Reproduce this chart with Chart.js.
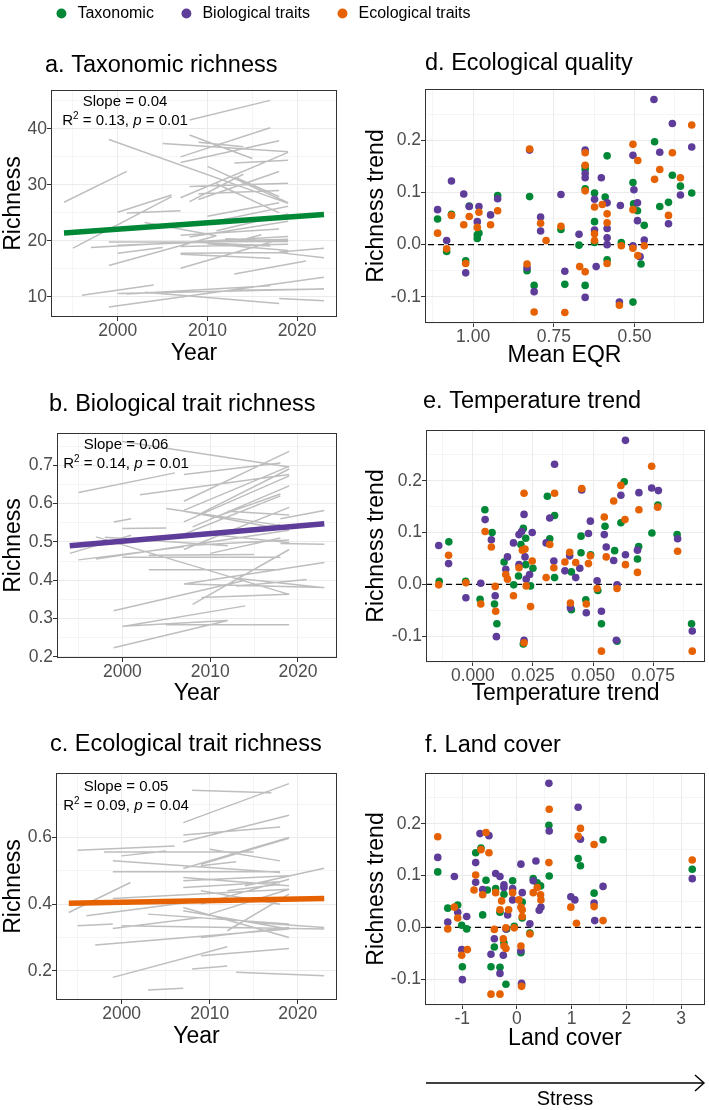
<!DOCTYPE html>
<html>
<head>
<meta charset="utf-8">
<script src="https://cdn.jsdelivr.net/npm/chart.js@4.4.1/dist/chart.umd.min.js"></script>
<style>
  body { margin: 0; width: 709px; height: 1110px; background: #fff; position: relative; overflow: hidden; }
  canvas { position: absolute; }
</style>
</head>
<body>
<script>
const FONT = '"Liberation Sans", Arial, Helvetica, sans-serif';

const seriesNames = ['Taxonomic', 'Biological traits', 'Ecological traits'];
const taxColour = '#008837';
const bioColour = '#5e3c99';
const ecoColour = '#e66101';
const segColour = '#bebebe';

// a-c: one segment per site, [first year, richness, last year, richness]
const taxSegments = [
    [1994, 26.9, 2001, 32.4], [1999, 38.1, 2019, 26.7], [2008, 41.6, 2017, 45.1], [2007, 35.0, 2017, 40.2],
    [2007, 34.0, 2018, 37.9], [2005, 37.4, 2019, 35.9], [2008, 38.9, 2015, 34.7], [2009, 37.6, 2014, 36.8],
    [2013, 33.9, 2019, 34.4], [2010, 33.3, 2019, 26.8], [2008, 29.7, 2019, 30.3], [2009, 27.4, 2018, 32.4],
    [2008, 27.0, 2014, 31.9], [2009, 28.4, 2018, 29.0], [2007, 27.7, 2019, 35.8], [2013, 31.4, 2018, 27.9],
    [2011, 30.2, 2018, 25.0], [2000, 25.1, 2006, 28.2], [2001, 25.0, 2007, 25.4], [1995, 18.7, 2006, 27.9],
    [2003, 23.3, 2011, 20.9], [1997, 18.8, 2019, 20.8], [1999, 19.8, 2019, 19.9], [2000, 19.2, 2019, 20.3],
    [2000, 17.8, 2005, 18.8], [2007, 19.0, 2019, 19.4], [2007, 17.8, 2019, 17.9], [2007, 17.6, 2017, 16.9],
    [2008, 20.7, 2019, 23.5], [2009, 22.9, 2019, 26.2], [2011, 21.8, 2019, 24.8], [2010, 19.5, 2019, 18.3],
    [2013, 19.8, 2016, 21.1], [2007, 15.1, 2018, 20.2], [1999, 15.6, 2011, 20.9], [2010, 24.4, 2018, 26.8],
    [2007, 21.0, 2018, 22.1], [2013, 14.1, 2021, 16.4], [2018, 17.9, 2023, 17.0], [2018, 18.0, 2023, 18.7],
    [1996, 10.3, 2004, 12.1], [2000, 10.6, 2023, 11.4], [2003, 10.8, 2018, 8.8], [1999, 8.2, 2023, 13.5],
    [2013, 11.2, 2023, 11.4], [2018, 9.7, 2023, 9.3], [2001, 10.5, 2017, 12.0], [2008, 19.8, 2017, 19.1],
    [2012, 20.4, 2019, 20.0]
];
const bioSegments = [
    [1995, 0.629, 2006, 0.680], [2000, 0.762, 2019, 0.695], [2002, 0.623, 2019, 0.676], [2007, 0.676, 2018, 0.706],
    [2007, 0.606, 2019, 0.736], [2007, 0.582, 2019, 0.697], [2007, 0.552, 2019, 0.672], [2008, 0.539, 2019, 0.646],
    [2009, 0.575, 2019, 0.690], [2010, 0.560, 2018, 0.625], [2007, 0.520, 2018, 0.620], [2005, 0.587, 2018, 0.543],
    [2007, 0.580, 2019, 0.530], [1999, 0.552, 2001, 0.560], [2000, 0.535, 2005, 0.536], [1997, 0.513, 2019, 0.363],
    [1999, 0.320, 2014, 0.400], [2000, 0.280, 2012, 0.295], [1999, 0.224, 2012, 0.295], [2005, 0.284, 2019, 0.284],
    [2000, 0.279, 2014, 0.333], [2008, 0.337, 2019, 0.480], [2009, 0.355, 2019, 0.363], [2007, 0.390, 2023, 0.381],
    [2013, 0.384, 2021, 0.402], [2003, 0.427, 2018, 0.427], [2013, 0.405, 2023, 0.380], [2007, 0.390, 2023, 0.446],
    [2018, 0.560, 2023, 0.582], [2018, 0.496, 2023, 0.494], [1994, 0.470, 2001, 0.517], [1995, 0.453, 2007, 0.487],
    [1997, 0.455, 2019, 0.530], [2000, 0.460, 2018, 0.460], [2003, 0.465, 2015, 0.467], [2007, 0.480, 2019, 0.590],
    [2007, 0.490, 2019, 0.505], [2004, 0.506, 2018, 0.545], [2010, 0.470, 2018, 0.510], [2009, 0.522, 2019, 0.498],
    [2012, 0.580, 2019, 0.570], [1998, 0.512, 2012, 0.490]
];
const ecoSegments = [
    [1995, 0.562, 2006, 0.575], [1998, 0.557, 2015, 0.557], [2000, 0.545, 2005, 0.560], [1999, 0.530, 2018, 0.495],
    [1999, 0.497, 2018, 0.497], [2008, 0.742, 2017, 0.735], [2007, 0.645, 2019, 0.762], [2007, 0.608, 2018, 0.632],
    [2007, 0.587, 2019, 0.667], [2007, 0.507, 2019, 0.600], [2010, 0.565, 2018, 0.530], [2009, 0.520, 2019, 0.598],
    [2007, 0.480, 2019, 0.455], [2009, 0.515, 2013, 0.527], [2007, 0.450, 2018, 0.467], [2007, 0.470, 2019, 0.485],
    [1994, 0.375, 2001, 0.465], [1995, 0.335, 1999, 0.340], [1996, 0.365, 2009, 0.410], [1999, 0.417, 2019, 0.445],
    [1999, 0.327, 2009, 0.360], [1997, 0.277, 2019, 0.325], [2000, 0.335, 2023, 0.325], [2003, 0.370, 2019, 0.340],
    [2007, 0.390, 2019, 0.300], [2007, 0.380, 2019, 0.325], [2015, 0.345, 2023, 0.330], [2009, 0.300, 2019, 0.330],
    [2009, 0.245, 2019, 0.267], [1999, 0.180, 2012, 0.272], [2008, 0.205, 2012, 0.214], [2013, 0.195, 2023, 0.185],
    [2003, 0.142, 2007, 0.147], [2014, 0.455, 2023, 0.508], [2010, 0.370, 2019, 0.445], [2009, 0.400, 2019, 0.475],
    [2003, 0.405, 2015, 0.415], [2012, 0.440, 2018, 0.460], [2009, 0.440, 2018, 0.400], [2012, 0.320, 2019, 0.430]
];

// fitted trend, [year, richness] at both ends
const taxTrend = [[1994, 21.4], [2023, 24.7]];
const bioTrend = [[1994, 0.490], [2023, 0.547]];
const ecoTrend = [[1994, 0.403], [2023, 0.417]];

// slope, R2, p
const taxStats = ['0.04', '0.13', '0.01'];
const bioStats = ['0.06', '0.14', '0.01'];
const ecoStats = ['0.05', '0.09', '0.04'];

// d: richness trend against mean EQR, [EQR, trend]
const eqrTax = [
    [1.110, 0.049], [1.082, -0.013], [1.067, 0.058], [1.023, -0.031], [1.012, 0.074], [0.987, 0.019], [0.987, 0.012],
    [0.982, 0.022], [0.924, 0.094], [0.825, 0.092], [0.833, -0.050], [0.811, -0.078], [0.728, 0.029], [0.716, -0.076],
    [0.672, -0.001], [0.653, 0.150], [0.653, 0.144], [0.653, 0.107], [0.653, -0.078], [0.624, 0.099], [0.624, 0.044],
    [0.624, 0.004], [0.591, 0.091], [0.585, 0.170], [0.585, -0.029], [0.541, 0.004], [0.505, 0.119], [0.503, 0.078],
    [0.505, -0.110], [0.491, 0.065], [0.480, -0.037], [0.470, 0.037], [0.438, 0.197], [0.422, 0.073], [0.395, 0.081],
    [0.383, 0.133], [0.358, 0.112], [0.323, 0.099]
];
const eqrBio = [
    [1.110, 0.067], [1.082, 0.008], [1.067, 0.122], [1.029, 0.097], [1.023, -0.054], [1.012, 0.073], [0.982, 0.073],
    [0.987, 0.044], [0.946, 0.057], [0.924, 0.088], [0.825, 0.181], [0.833, -0.044], [0.811, -0.090], [0.791, 0.053],
    [0.791, 0.026], [0.728, 0.096], [0.716, -0.051], [0.672, 0.020], [0.653, 0.181], [0.653, 0.136], [0.653, 0.128],
    [0.653, -0.101], [0.619, -0.042], [0.624, 0.087], [0.624, 0.028], [0.603, 0.128], [0.585, 0.080], [0.585, 0.031],
    [0.585, 0.013], [0.585, 0.000], [0.544, 0.075], [0.547, -0.110], [0.505, 0.171], [0.502, 0.105], [0.505, -0.002],
    [0.491, 0.080], [0.491, 0.046], [0.483, -0.023], [0.470, 0.009], [0.440, 0.278], [0.422, 0.177], [0.395, 0.040],
    [0.383, 0.232], [0.358, 0.095], [0.323, 0.187]
];
const eqrEco = [
    [1.110, 0.022], [1.082, -0.008], [1.067, 0.056], [1.029, 0.038], [1.023, -0.036], [1.012, 0.054], [0.982, 0.062],
    [0.987, 0.033], [0.946, 0.038], [0.924, 0.065], [0.825, 0.183], [0.833, -0.037], [0.811, -0.129], [0.791, 0.041],
    [0.774, 0.008], [0.728, 0.035], [0.716, -0.130], [0.670, -0.042], [0.653, 0.176], [0.653, 0.152], [0.653, 0.103],
    [0.653, -0.052], [0.624, 0.072], [0.624, 0.021], [0.624, 0.008], [0.600, 0.077], [0.585, 0.059], [0.585, 0.042],
    [0.585, -0.036], [0.541, -0.002], [0.547, -0.116], [0.505, 0.192], [0.505, 0.067], [0.505, -0.007], [0.490, 0.161],
    [0.490, -0.021], [0.470, -0.002], [0.438, 0.125], [0.422, 0.144], [0.395, 0.056], [0.383, 0.176], [0.358, 0.128],
    [0.323, 0.229]
];

// e: richness trend against temperature trend
const tempTax = [
    [-0.010, 0.082], [-0.014, 0.006], [-0.003, 0.006], [0.005, 0.144], [0.003, -0.029], [0.008, 0.100], [0.009, -0.038],
    [0.010, -0.076], [0.013, 0.043], [0.017, -0.001], [0.019, 0.016], [0.021, 0.108], [0.020, 0.077], [0.022, 0.089],
    [0.021, -0.115], [0.022, 0.038], [0.024, -0.003], [0.025, 0.031], [0.031, 0.170], [0.032, 0.088], [0.034, 0.133],
    [0.034, 0.013], [0.041, 0.024], [0.041, -0.049], [0.045, 0.061], [0.045, 0.093], [0.047, -0.030], [0.049, 0.057],
    [0.052, -0.012], [0.0535, -0.076], [0.055, 0.112], [0.059, 0.065], [0.060, -0.110], [0.0616, 0.119], [0.063, 0.198],
    [0.069, 0.073], [0.0685, 0.049], [0.0745, 0.099], [0.077, 0.153], [0.085, 0.096], [0.091, -0.076]
];
const tempBio = [
    [-0.0142, 0.075], [-0.0101, 0.040], [-0.0029, -0.026], [0.0051, 0.125], [0.0033, 0.002], [0.0077, 0.086],
    [0.0093, -0.022], [0.0098, -0.101], [0.0144, 0.053], [0.0137, 0.029], [0.0169, 0.080], [0.0192, 0.096],
    [0.0203, 0.102], [0.0192, 0.038], [0.0213, 0.135], [0.0217, 0.053], [0.0213, -0.108], [0.0222, 0.010],
    [0.0236, 0.019], [0.0247, 0.100], [0.0305, 0.080], [0.032, 0.128], [0.034, 0.232], [0.0337, 0.045],
    [0.0383, 0.026], [0.0406, -0.045], [0.0403, 0.055], [0.0428, 0.013], [0.0445, 0.031], [0.0453, 0.182],
    [0.0481, 0.098], [0.0472, -0.055], [0.0489, 0.122], [0.0517, 0.007], [0.0535, -0.052], [0.0547, 0.096],
    [0.0555, 0.072], [0.0586, 0.046], [0.0597, -0.108], [0.060, -0.001], [0.0616, 0.172], [0.0635, 0.278],
    [0.0635, 0.057], [0.0691, 0.177], [0.0685, 0.066], [0.0744, 0.186], [0.0772, 0.181], [0.0852, 0.088],
    [0.0913, -0.090]
];
const tempEco = [
    [-0.0142, -0.001], [-0.0101, 0.056], [-0.0029, 0.003], [0.0051, 0.102], [0.0033, -0.038], [0.0077, 0.072],
    [0.0093, -0.004], [0.0095, -0.052], [0.0137, 0.019], [0.0144, 0.010], [0.0169, -0.022], [0.0192, 0.032],
    [0.0206, 0.066], [0.0217, 0.068], [0.0213, 0.176], [0.0213, -0.113], [0.0222, -0.003], [0.0247, 0.045],
    [0.024, -0.043], [0.0305, 0.013], [0.032, 0.077], [0.034, 0.176], [0.0337, 0.032], [0.0383, 0.043],
    [0.0406, -0.036], [0.0403, 0.062], [0.0428, 0.042], [0.0453, 0.185], [0.0481, 0.040], [0.0472, -0.038],
    [0.0489, 0.055], [0.0517, -0.008], [0.0535, -0.129], [0.0547, 0.130], [0.0555, 0.053], [0.0586, 0.161],
    [0.060, -0.008], [0.0616, 0.191], [0.0633, 0.125], [0.0635, 0.038], [0.0691, 0.144], [0.0685, 0.023],
    [0.0744, 0.228], [0.0769, 0.149], [0.0852, 0.064], [0.0913, -0.129]
];

// f: richness trend against land cover
const landTax = [
    [-1.447, 0.107], [-1.264, 0.037], [-1.082, 0.043], [-1.009, 0.004], [-0.997, -0.076], [-0.918, -0.003],
    [-0.754, 0.144], [-0.657, 0.153], [-0.626, 0.024], [-0.565, 0.091], [-0.541, 0.072], [-0.474, -0.076],
    [-0.413, -0.038], [-0.389, 0.075], [-0.310, 0.029], [-0.310, -0.077], [-0.237, -0.030], [-0.237, 0.064],
    [-0.201, -0.110], [-0.188, -0.003], [-0.079, 0.090], [-0.049, 0.002], [0.073, -0.049], [0.097, 0.049],
    [0.097, 0.018], [0.085, -0.111], [0.237, -0.011], [0.298, 0.094], [0.371, 0.086], [0.432, 0.080],
    [0.584, 0.197], [0.590, 0.099], [1.119, 0.133], [1.161, 0.119], [1.410, 0.066], [1.574, 0.169], [3.204, 0.112]
];
const landBio = [
    [-1.447, 0.135], [-1.264, 0.010], [-1.143, 0.098], [-1.082, 0.029], [-1.009, -0.043], [-0.997, -0.101],
    [-0.918, 0.021], [-0.754, 0.087], [-0.754, 0.125], [-0.675, 0.181], [-0.626, 0.073], [-0.511, 0.177],
    [-0.474, -0.052], [-0.413, -0.022], [-0.389, 0.104], [-0.310, 0.098], [-0.310, -0.089], [-0.249, -0.054],
    [-0.237, 0.077], [-0.237, 0.082], [-0.201, -0.003], [-0.170, 0.024], [-0.079, 0.075], [-0.079, 0.053],
    [0.073, 0.122], [0.073, -0.045], [0.097, 0.067], [0.085, -0.108], [0.237, 0.007], [0.347, 0.128],
    [0.298, 0.090], [0.438, 0.039], [0.407, 0.033], [0.584, 0.278], [0.590, 0.186], [0.985, 0.059],
    [1.058, 0.053], [1.119, 0.232], [1.161, 0.170], [1.410, 0.047], [1.422, 0.013], [1.574, 0.079], [3.204, 0.094]
];
const landEco = [
    [-1.447, 0.175], [-1.264, -0.003], [-1.143, 0.039], [-1.082, 0.018], [-1.009, -0.054], [-0.906, -0.043],
    [-0.754, 0.101], [-0.784, 0.072], [-0.657, 0.150], [-0.626, 0.063], [-0.565, 0.183], [-0.511, 0.144],
    [-0.474, -0.129], [-0.413, -0.004], [-0.389, 0.067], [-0.310, 0.034], [-0.310, -0.129], [-0.280, 0.051],
    [-0.249, -0.022], [-0.237, -0.036], [-0.201, -0.001], [-0.201, -0.041], [-0.152, 0.034], [-0.079, 0.067],
    [-0.049, -0.001], [0.036, 0.053], [0.073, 0.039], [0.073, -0.036], [0.097, 0.034], [0.097, 0.021],
    [0.085, -0.114], [0.237, -0.013], [0.298, 0.067], [0.371, 0.077], [0.432, 0.063], [0.438, 0.053],
    [0.590, 0.228], [0.584, 0.125], [0.985, 0.039], [1.088, 0.008], [1.161, 0.191], [1.119, 0.176],
    [1.410, 0.160], [1.410, 0.040], [1.574, 0.013], [3.204, 0.130]
];

// tick values and their labels
const yearTicks = [2000, 2010, 2020];
const yearLabels = ['2000', '2010', '2020'];
const taxRichTicks = [10, 20, 30, 40];
const taxRichLabels = ['10', '20', '30', '40'];
const bioRichTicks = [0.2, 0.3, 0.4, 0.5, 0.6, 0.7];
const bioRichLabels = ['0.2', '0.3', '0.4', '0.5', '0.6', '0.7'];
const ecoRichTicks = [0.2, 0.4, 0.6];
const ecoRichLabels = ['0.2', '0.4', '0.6'];
const trendTicks = [-0.1, 0, 0.1, 0.2];
const trendLabels = ['-0.1', '0.0', '0.1', '0.2'];
const eqrTicks = [0.5, 0.75, 1.0];
const eqrLabels = ['0.50', '0.75', '1.00'];
const tempTicks = [0, 0.025, 0.05, 0.075];
const tempLabels = ['0.000', '0.025', '0.050', '0.075'];
const landTicks = [-1, 0, 1, 2, 3];
const landLabels = ['-1', '0', '1', '2', '3'];

Chart.defaults.font.family = FONT;
Chart.defaults.color = '#000';

function addCanvas(left, top, width, height) {
    const c = document.createElement('canvas');
    c.width = width;
    c.height = height;
    c.style.left = left + 'px';
    c.style.top = top + 'px';
    c.style.width = width + 'px';
    c.style.height = height + 'px';
    document.body.appendChild(c);
    return c;
}

function xy(pairs) {
    return pairs.map(p => ({x: p[0], y: p[1]}));
}

// one dataset for all segments, null breaks the line between sites
function segmentPoints(segs) {
    const pts = [];
    segs.forEach(s => {
        pts.push({x: s[0], y: s[1]}, {x: s[2], y: s[3]}, {x: s[2], y: null});
    });
    return pts;
}

// major ticks with labels, minor ticks halfway (grid only)
function tickList(major, labels, min, max) {
    const step = major[1] - major[0];
    const list = [];
    for (let k = -2; k <= 2 * major.length; k++) {
        const v = +(major[0] + k * step / 2).toFixed(6);
        if (v < min - 1e-9 || v > max + 1e-9) continue;
        const isMajor = k % 2 === 0;
        list.push({value: v, minor: !isMajor, text: isMajor ? labels[k / 2] : ''});
    }
    return list;
}

function axis(cfg) {
    return {
        type: 'linear',
        bounds: 'data',
        min: cfg.min,
        max: cfg.max,
        reverse: !!cfg.reverse,
        afterBuildTicks: s => { s.ticks = tickList(cfg.ticks, cfg.labels, cfg.min, cfg.max); },
        afterFit: s => {
            if (s.isHorizontal()) s.height = cfg.size;
            else s.width = cfg.size;
        },
        ticks: {
            autoSkip: false,
            maxRotation: 0,
            minRotation: 0,
            padding: 0,
            color: '#4d4d4d',
            font: {size: 17.5},
            callback: (v, i, t) => t[i].text
        },
        grid: {
            color: '#ebebeb',
            lineWidth: c => (c.tick && c.tick.minor) ? 0.5 : 1,
            tickLength: 4,
            tickWidth: 1,
            tickColor: c => (c.tick && c.tick.minor) ? 'rgba(0,0,0,0)' : '#333333'
        },
        border: {display: false},
        title: {display: true, text: cfg.title, color: '#000', font: {size: 23}, padding: cfg.titlePad}
    };
}

function drawStats(ctx, cx, y1, y2, stats) {
    const normal = '15px ' + FONT;
    ctx.textBaseline = 'middle';
    ctx.textAlign = 'center';
    ctx.font = normal;
    ctx.fillText('Slope = ' + stats[0], cx, y1);
    const parts = [
        {t: 'R', f: normal, dy: 0},
        {t: '2', f: '10px ' + FONT, dy: -5},
        {t: ' = ' + stats[1] + ', ', f: normal, dy: 0},
        {t: 'p', f: 'italic 15px ' + FONT, dy: 0},
        {t: ' = ' + stats[2], f: normal, dy: 0}
    ];
    let total = 0;
    parts.forEach(p => { ctx.font = p.f; p.w = ctx.measureText(p.t).width; total += p.w; });
    let x = cx - total / 2;
    ctx.textAlign = 'left';
    parts.forEach(p => { ctx.font = p.f; ctx.fillText(p.t, x, y2 + p.dy); x += p.w; });
}

// panel border, panel title, stats text and the stress arrow
const panelDeco = {
    id: 'panelDeco',
    afterDraw(chart, args, o) {
        const {ctx, chartArea: a} = chart;
        ctx.save();
        ctx.strokeStyle = '#333333';
        ctx.lineWidth = 1;
        ctx.strokeRect(Math.round(a.left) + 0.5, Math.round(a.top) + 0.5,
            Math.round(a.right - a.left) - 1, Math.round(a.bottom - a.top) - 1);
        ctx.fillStyle = '#000';
        ctx.font = '23.5px ' + FONT;
        ctx.textAlign = 'left';
        ctx.textBaseline = 'alphabetic';
        ctx.fillText(o.title, a.left + o.titleDx, a.top - o.titleDy);
        if (o.stats) drawStats(ctx, a.left + o.statsDx, a.top + o.statsDy[0], a.top + o.statsDy[1], o.stats);
        if (o.arrow) {
            const y = a.bottom + o.arrow.dy;
            ctx.strokeStyle = '#000';
            ctx.lineWidth = 1.4;
            ctx.beginPath();
            ctx.moveTo(a.left + 1, y);
            ctx.lineTo(a.right - 1, y);
            ctx.stroke();
            ctx.beginPath();
            ctx.moveTo(a.right - 10, y - 8);
            ctx.lineTo(a.right - 1, y);
            ctx.lineTo(a.right - 10, y + 8);
            ctx.stroke();
            ctx.font = '20px ' + FONT;
            ctx.textAlign = 'center';
            ctx.textBaseline = 'middle';
            ctx.fillText(o.arrow.text, (a.left + a.right) / 2, y + 16);
        }
        ctx.restore();
    }
};

function richnessChart(box, pad, segs, trend, colour, xCfg, yCfg, deco) {
    return new Chart(addCanvas(box[0], box[1], box[2], box[3]), {
        type: 'line',
        data: {
            datasets: [
                {data: xy(trend), borderColor: colour, borderWidth: 5.5, borderCapStyle: 'butt', pointRadius: 0, order: 0},
                {data: segmentPoints(segs), borderColor: segColour, borderWidth: 1.5, pointRadius: 0, spanGaps: false, order: 1}
            ]
        },
        options: {
            responsive: false,
            animation: false,
            events: [],
            layout: {padding: {top: pad[0], right: pad[1], bottom: 0, left: 0}},
            scales: {x: axis(xCfg), y: axis(yCfg)},
            plugins: {legend: {display: false}, tooltip: {enabled: false}, panelDeco: deco}
        },
        plugins: [panelDeco]
    });
}

function driverChart(box, pad, tax, bio, eco, xCfg, yCfg, deco) {
    const dot = (d, colour, order) => ({
        data: xy(d), backgroundColor: colour, borderColor: colour, borderWidth: 0,
        pointRadius: 3.8, pointHoverRadius: 3.8, order: order
    });
    return new Chart(addCanvas(box[0], box[1], box[2], box[3]), {
        type: 'scatter',
        data: {
            datasets: [
                // dashed zero line across the panel
                {data: [{x: xCfg.min, y: 0}, {x: xCfg.max, y: 0}], showLine: true, borderColor: '#000',
                 borderWidth: 1.3, borderDash: [6, 4], pointRadius: 0, order: 4},
                dot(tax, taxColour, 3),
                dot(bio, bioColour, 2),
                dot(eco, ecoColour, 1)
            ]
        },
        options: {
            responsive: false,
            animation: false,
            events: [],
            layout: {padding: {top: pad[0], right: pad[1], bottom: 0, left: 0}},
            scales: {x: axis(xCfg), y: axis(yCfg)},
            plugins: {legend: {display: false}, tooltip: {enabled: false}, panelDeco: deco}
        },
        plugins: [panelDeco]
    });
}

// shared legend on top
new Chart(addCanvas(0, -19, 524, 90), {
    type: 'scatter',
    data: {
        datasets: [taxColour, bioColour, ecoColour].map((c, i) => ({
            label: seriesNames[i], data: [], backgroundColor: c, borderColor: c, borderWidth: 0, pointStyle: 'circle'
        }))
    },
    options: {
        responsive: false,
        animation: false,
        events: [],
        scales: {x: {display: false}, y: {display: false}},
        plugins: {
            tooltip: {enabled: false},
            legend: {
                position: 'top',
                maxHeight: 80,
                labels: {usePointStyle: true, boxHeight: 7, padding: 24.5, color: '#000', font: {size: 16}}
            }
        }
    }
});

const yearAxis = size => ({min: 1992.55, max: 2024.45, ticks: yearTicks, labels: yearLabels,
    title: 'Year', size: size, titlePad: {top: 0, bottom: 3}});
const trendAxis = {min: -0.15, max: 0.298, ticks: trendTicks, labels: trendLabels,
    title: 'Richness trend', size: 75, titlePad: {top: 12.5, bottom: 0}};

richnessChart([0, 40, 350, 330], [50, 13], taxSegments, taxTrend, taxColour,
    yearAxis(53),
    {min: 6.4, max: 46.95, ticks: taxRichTicks, labels: taxRichLabels, title: 'Richness', size: 51, titlePad: {top: 0, bottom: 0}},
    {title: 'a. Taxonomic richness', titleDx: -6, titleDy: 18, stats: taxStats, statsDx: 74, statsDy: [12, 31]});

richnessChart([0, 370, 350, 340], [63, 13], bioSegments, bioTrend, bioColour,
    yearAxis(52),
    {min: 0.197, max: 0.784, ticks: bioRichTicks, labels: bioRichLabels, title: 'Richness', size: 57, titlePad: {top: 0, bottom: 0}},
    {title: 'b. Biological trait richness', titleDx: -8, titleDy: 22, stats: bioStats, statsDx: 69, statsDy: [12, 31]});

richnessChart([0, 710, 350, 350], [63, 13], ecoSegments, ecoTrend, ecoColour,
    Object.assign(yearAxis(60), {titlePad: {top: 0, bottom: 10}}),
    {min: 0.112, max: 0.794, ticks: ecoRichTicks, labels: ecoRichLabels, title: 'Richness', size: 56, titlePad: {top: 0, bottom: 0}},
    {title: 'c. Ecological trait richness', titleDx: -6, titleDy: 22, stats: ecoStats, statsDx: 70, statsDy: [14, 33]});

driverChart([350, 40, 359, 330], [49, 5], eqrTax, eqrBio, eqrEco,
    {min: 0.285, max: 1.149, reverse: true, ticks: eqrTicks, labels: eqrLabels, title: 'Mean EQR', size: 47, titlePad: {top: 0, bottom: 1}},
    trendAxis,
    {title: 'd. Ecological quality', titleDx: 0, titleDy: 19});

driverChart([350, 370, 359, 340], [60, 4], tempTax, tempBio, tempEco,
    {min: -0.0195, max: 0.0966, ticks: tempTicks, labels: tempLabels, title: 'Temperature trend', size: 48, titlePad: {top: 0, bottom: 3}},
    Object.assign({}, trendAxis, {size: 76}),
    {title: 'e. Temperature trend', titleDx: -3, titleDy: 22});

driverChart([350, 710, 359, 400], [63, 4], landTax, landBio, landEco,
    {min: -1.68, max: 3.437, ticks: landTicks, labels: landLabels, title: 'Land cover', size: 105, titlePad: {top: 0, bottom: 58}},
    trendAxis,
    {title: 'f. Land cover', titleDx: 0, titleDy: 21, arrow: {dy: 78, text: 'Stress'}});
</script>
</body>
</html>
